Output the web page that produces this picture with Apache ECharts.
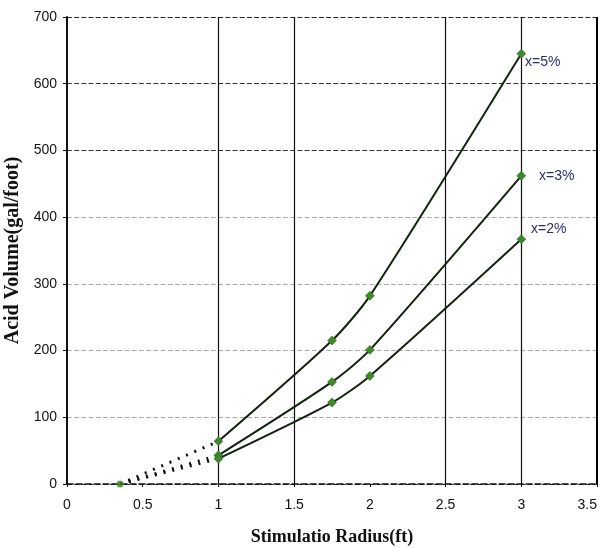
<!DOCTYPE html>
<html><head><meta charset="utf-8">
<script src="https://cdn.jsdelivr.net/npm/echarts@6/dist/echarts.min.js"></script>
<style>html,body{margin:0;padding:0;background:#fff}#c{width:605px;height:548px}</style>
</head><body><div id="c"></div>
<script>
const radius = [1, 1.75, 2, 3];
const vol5 = [64, 215, 282, 645];
const vol3 = [43, 153, 201, 462];
const vol2 = [38, 122, 162, 367];
const startPoint = [0.35, 0];
const seriesNames = ['x=5%', 'x=3%', 'x=2%'];
const vGridX = [1, 1.5, 2.5, 3];
const xTicks = [0, 0.5, 1, 1.5, 2, 2.5, 3, 3.5];
const yTicks = [0, 100, 200, 300, 400, 500, 600, 700];

const lineColor = '#14230f';
const markerColor = '#3d8a2a';
const labelColor = '#2a2f70';
const labelOffsets = [[-6, 8], [8, 0], [0, -10]];

const allVols = [vol5, vol3, vol2];
const series = [];
allVols.forEach((vals, i) => {
  const data = radius.map((r, j) => {
    const item = { value: [r, vals[j]] };
    if (j === radius.length - 1) {
      item.label = {
        show: true, position: 'right', formatter: seriesNames[i],
        color: labelColor, fontFamily: 'Liberation Sans, Arial', fontSize: 14,
        offset: labelOffsets[i]
      };
    }
    return item;
  });
  series.push({
    type: 'line', name: seriesNames[i], data: data, smooth: 0.25,
    symbol: 'diamond', symbolSize: 9, showSymbol: true,
    itemStyle: { color: markerColor, borderColor: '#2a5a1a', borderWidth: 0.5 },
    lineStyle: { color: lineColor, width: 2 }, z: 5
  });
  series.push({
    type: 'line', data: [startPoint, [radius[0], vals[0]]],
    symbol: 'none', lineStyle: { color: '#111', width: 3, type: [2, 7] }, z: 4
  });
});
series.push({
  type: 'scatter', data: [startPoint], symbol: 'circle', symbolSize: 7,
  itemStyle: { color: markerColor }, z: 6
});
series.push({
  type: 'line', data: [], silent: true,
  markLine: {
    symbol: 'none', silent: true, label: { show: false },
    lineStyle: { color: '#111', width: 1.2, type: 'solid' },
    data: vGridX.map(v => ({ xAxis: v }))
  }
});
series.push({
  type: 'line', data: [], silent: true,
  markLine: {
    symbol: 'none', silent: true, label: { show: false },
    lineStyle: { color: '#000', width: 2, type: 'solid' },
    data: [{ xAxis: xTicks[xTicks.length - 1] }]
  }
});

const chart = echarts.init(document.getElementById('c'), null, { renderer: 'canvas' });
chart.setOption({
  animation: false,
  backgroundColor: '#fff',
  grid: { left: 67, right: 8, top: 17, bottom: 64, containLabel: false, outerBoundsMode: 'none' },
  xAxis: {
    type: 'value', min: xTicks[0], max: xTicks[xTicks.length - 1], interval: 0.5,
    name: 'Stimulatio Radius(ft)', nameLocation: 'middle', nameGap: 44,
    nameTextStyle: { fontFamily: 'Liberation Serif, Times New Roman', fontWeight: 'bold', fontSize: 18, color: '#111' },
    axisLine: { show: true, onZero: false, lineStyle: { color: '#111', width: 1.5, type: 'dashed' } },
    axisTick: { show: true, length: 3, lineStyle: { color: '#111' } },
    axisLabel: { color: '#111', fontFamily: 'Liberation Sans, Arial', fontSize: 14, margin: 14, alignMaxLabel: 'right' },
    splitLine: { show: false }
  },
  yAxis: {
    type: 'value', min: yTicks[0], max: yTicks[yTicks.length - 1], interval: 100,
    name: 'Acid Volume(gal/foot)', nameLocation: 'middle', nameGap: 40,
    nameTextStyle: { fontFamily: 'Liberation Serif, Times New Roman', fontWeight: 'bold', fontSize: 20, color: '#111' },
    axisLine: { show: true, lineStyle: { color: '#111', width: 2 } },
    axisTick: { show: true, length: 4, lineStyle: { color: '#111' } },
    axisLabel: { color: '#111', fontFamily: 'Liberation Sans, Arial', fontSize: 14, margin: 10 },
    splitLine: { show: true, lineStyle: { color: ['#222', '#aaa', '#aaa', '#aaa', '#aaa', '#333', '#333', '#222'], type: 'dashed', width: 1.2 } }
  },
  series: series
});
</script></body></html>
